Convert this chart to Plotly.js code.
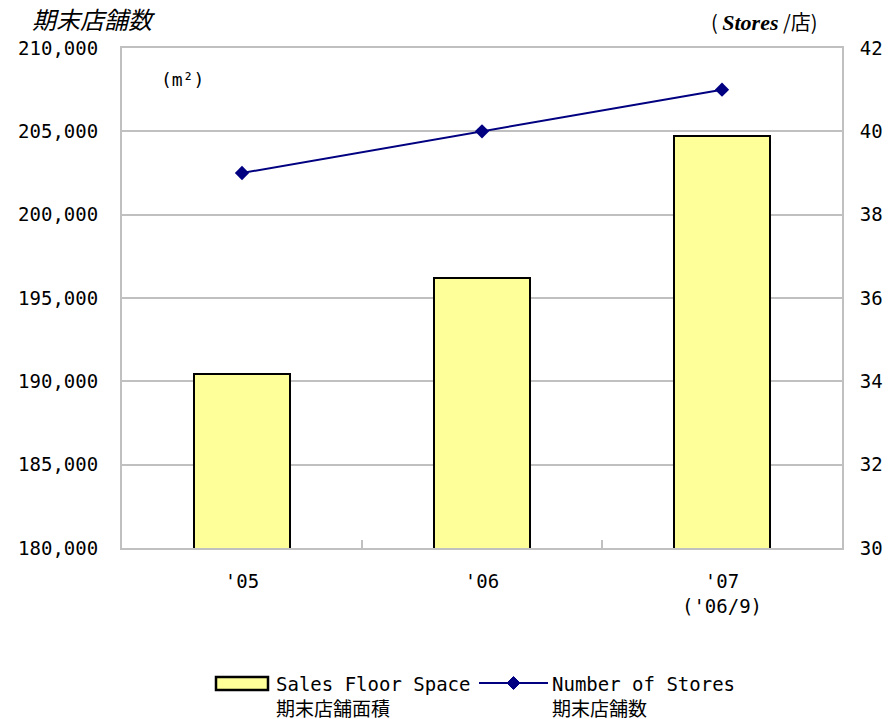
<!DOCTYPE html>
<html><head><meta charset="utf-8">
<script src="https://cdn.plot.ly/plotly-3.0.1.min.js"></script>
<style>body{margin:0;background:#fff}#c{width:888px;height:719px}</style>
</head><body><div id="c"></div>
<script>
const categories = ["'05", "'06", "'07<br>('06/9)"];
const floorSpace = [190440, 196200, 204720];
const storeCounts = [39, 40, 41];
const leftTicks = [180000, 185000, 190000, 195000, 200000, 205000, 210000];
const rightTicks = [30, 32, 34, 36, 38, 40, 42];
const seriesNames = ["Sales Floor Space<br>期末店舗面積", "Number of Stores<br>期末店舗数"];

const F = "DejaVu Sans Mono, Noto Sans CJK JP, sans-serif";
const L = 122, R = 842, T = 48, B = 548;
const px = v => (v - L) / (R - L);
const py = v => (B - v) / (B - T);

const BAR_COLOR = '#FFFF99', LINE_COLOR = '#000080';
const traces = [
  {type: 'bar', x: categories, y: floorSpace, name: seriesNames[0], width: 0.4,
   marker: {color: BAR_COLOR, line: {color: '#000000', width: 2}}, yaxis: 'y'},
  {type: 'scatter', mode: 'lines+markers', x: categories, y: storeCounts, name: seriesNames[1],
   line: {color: LINE_COLOR, width: 2}, marker: {symbol: 'diamond', size: 11, color: LINE_COLOR}, yaxis: 'y2'}
];

// manual legend (wide bar swatch like the original)
const legY = 683;
const shapes = [
  {type: 'rect', xref: 'paper', yref: 'paper', x0: px(216), x1: px(268), y0: py(677), y1: py(690),
   fillcolor: BAR_COLOR, line: {color: '#000', width: 2.5}},
  {type: 'line', xref: 'paper', yref: 'paper', x0: px(479), x1: px(548), y0: py(legY), y1: py(legY),
   line: {color: LINE_COLOR, width: 2}},
  {type: 'path', xref: 'paper', yref: 'paper', fillcolor: LINE_COLOR, line: {color: LINE_COLOR, width: 1},
   path: `M ${px(507)} ${py(legY)} L ${px(513.5)} ${py(legY-6.5)} L ${px(520)} ${py(legY)} L ${px(513.5)} ${py(legY+6.5)} Z`}
];

const layout = {
  width: 888, height: 719,
  margin: {l: 122, r: 46, t: 48, b: 171},
  paper_bgcolor: '#fff', plot_bgcolor: '#fff',
  font: {family: F, size: 19, color: '#000'},
  showlegend: false,
  bargap: 0.6,
  xaxis: {type: 'category', showgrid: false, showline: true, linecolor: '#C0C0C0', linewidth: 2,
          mirror: true, ticks: 'inside', tickson: 'boundaries', ticklen: 8, tickcolor: '#C0C0C0',
          tickwidth: 2, ticklabelstandoff: 15, zeroline: false},
  yaxis: {range: [180000, 210000], tickvals: leftTicks, tickformat: ',d', showgrid: true,
          gridcolor: '#C0C0C0', gridwidth: 2, showline: true, linecolor: '#C0C0C0', linewidth: 2,
          ticks: '', ticklabelstandoff: 18, zeroline: false},
  yaxis2: {range: [30, 42], tickvals: rightTicks, overlaying: 'y', side: 'right', showgrid: false,
           showline: true, linecolor: '#C0C0C0', linewidth: 2, ticks: '', ticklabelstandoff: 12, zeroline: false},
  shapes: shapes,
  annotations: [
    {text: '<i>期末店舗数</i>', xref: 'paper', yref: 'paper', x: px(30), y: py(19), xanchor: 'left', yanchor: 'middle',
     showarrow: false, font: {family: 'Noto Sans CJK JP, sans-serif', size: 24, color: '#000'}},
    {text: '(m²)', xref: 'paper', yref: 'paper', x: px(159), y: py(79), xanchor: 'left', yanchor: 'middle',
     showarrow: false, font: {family: F, size: 18, color: '#000'}},
    {text: '( <b><i><span style="font-family:Liberation Serif;font-size:22px">Stores</span></i></b> /店)', xref: 'paper', yref: 'paper',
     x: px(764), y: py(22), xanchor: 'center', yanchor: 'middle', showarrow: false,
     font: {family: 'Noto Sans CJK JP, sans-serif', size: 20, color: '#000'}},
    {text: seriesNames[0], xref: 'paper', yref: 'paper', x: px(274), y: py(671), xanchor: 'left', yanchor: 'top',
     align: 'left', showarrow: false, font: {family: F, size: 19, color: '#000'}},
    {text: seriesNames[1], xref: 'paper', yref: 'paper', x: px(550), y: py(671), xanchor: 'left', yanchor: 'top',
     align: 'left', showarrow: false, font: {family: F, size: 19, color: '#000'}}
  ]
};
Plotly.newPlot('c', traces, layout, {displayModeBar: false, staticPlot: true});
</script></body></html>
